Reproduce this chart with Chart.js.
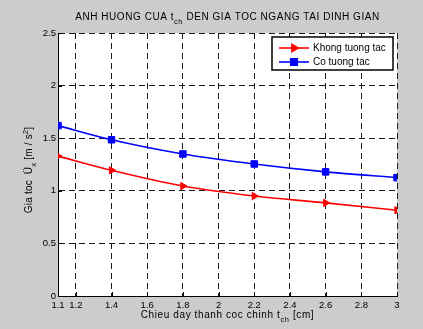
<!DOCTYPE html>
<html>
<head>
<meta charset="utf-8">
<title>Anh huong cua tch den gia toc ngang tai dinh gian</title>
<style>
  html, body { margin: 0; padding: 0; background: #cccccc; }
  #wrap { width: 423px; height: 329px; position: relative; }
  canvas { display: block; }
</style>
<script src="https://cdn.jsdelivr.net/npm/chart.js@4/dist/chart.umd.min.js"></script>
</head>
<body>
<div id="wrap"><canvas id="chart" width="423" height="329"></canvas></div>
<script>
// Chieu day thanh coc chinh t_ch [cm]
const thickness = [1.1, 1.4, 1.8, 2.2, 2.6, 3.0];
// Gia toc ngang tai dinh gian [m/s^2]
const accelNoInteraction = [1.33, 1.195, 1.045, 0.95, 0.885, 0.815];
const accelInteraction = [1.62, 1.485, 1.35, 1.255, 1.18, 1.125];
const seriesNames = ['Khong tuong tac', 'Co tuong tac'];
const seriesColors = ['#ff0000', '#0000ff'];
const xTickValues = [1.1, 1.2, 1.4, 1.6, 1.8, 2, 2.2, 2.4, 2.6, 2.8, 3];
const yTickValues = [0, 0.5, 1, 1.5, 2, 2.5];

const FONT = '"Liberation Sans", Arial, Helvetica, sans-serif';

// Text with subscripts / superscripts, drawn as a run of segments
function setFont(ctx, size, spacing) {
  ctx.font = size + 'px ' + FONT;
  if ('letterSpacing' in ctx) ctx.letterSpacing = spacing + 'px';
}
function richWidth(ctx, segs, size, spacing) {
  let w = 0;
  for (const s of segs) {
    const fs = (s.sub || s.sup) ? size * 0.75 : size;
    setFont(ctx, fs, spacing);
    w += ctx.measureText(s.t).width;
  }
  return w;
}
function drawRich(ctx, segs, x, y, size, spacing) {
  const w = richWidth(ctx, segs, size, spacing);
  let cx = x - w / 2;
  ctx.textBaseline = 'alphabetic';
  ctx.textAlign = 'left';
  for (const s of segs) {
    const fs = (s.sub || s.sup) ? size * 0.75 : size;
    setFont(ctx, fs, spacing);
    const dy = s.sub ? size * 0.35 : (s.sup ? -size * 0.45 : 0);
    ctx.fillText(s.t, cx, y + dy);
    cx += ctx.measureText(s.t).width;
  }
  setFont(ctx, size, 0);
}

const titleSegs = [{t: 'ANH HUONG CUA t'}, {t: 'ch', sub: true}, {t: ' DEN GIA TOC NGANG TAI DINH GIAN'}];
const xLabelSegs = [{t: 'Chieu day thanh coc chinh t'}, {t: 'ch', sub: true}, {t: ' [cm]'}];
const yLabelSegs = [{t: 'Gia toc  \u00DC'}, {t: 'x', sub: true}, {t: ' [m / s'}, {t: '2', sup: true}, {t: ']'}];

const figurePlugin = {
  id: 'figure',
  beforeDraw(chart) {
    const {ctx, chartArea: a} = chart;
    ctx.save();
    ctx.fillStyle = '#cccccc';
    ctx.fillRect(0, 0, chart.width, chart.height);
    ctx.fillStyle = '#ffffff';
    ctx.fillRect(a.left, a.top, a.right - a.left, a.bottom - a.top);
    ctx.restore();
  },
  afterDraw(chart) {
    const {ctx, chartArea: a, scales} = chart;
    ctx.save();
    // inward tick marks
    ctx.strokeStyle = '#000';
    ctx.lineWidth = 1;
    ctx.beginPath();
    for (const v of xTickValues) {
      const px = Math.round(scales.x.getPixelForValue(v)) + 0.5;
      ctx.moveTo(px, a.bottom);
      ctx.lineTo(px, a.bottom - 4);
    }
    for (const v of yTickValues) {
      const py = Math.round(scales.y.getPixelForValue(v)) + 0.5;
      ctx.moveTo(a.left, py);
      ctx.lineTo(a.left + 4, py);
    }
    ctx.stroke();

    // title and axis labels
    ctx.fillStyle = '#000';
    const cx = (a.left + a.right) / 2;
    drawRich(ctx, titleSegs, cx, 20, 10, 0.55);
    drawRich(ctx, xLabelSegs, cx, 318, 10, 0.6);
    ctx.save();
    ctx.translate(32, 170);
    ctx.rotate(-Math.PI / 2);
    drawRich(ctx, yLabelSegs, 0, 0, 10, 0.2);
    ctx.restore();

    // legend box
    const lx = 272, ly = 37, lw = 121, lh = 33;
    ctx.fillStyle = '#ffffff';
    ctx.fillRect(lx, ly, lw, lh);
    ctx.strokeStyle = '#000';
    ctx.lineWidth = 1.5;
    ctx.strokeRect(lx, ly, lw, lh);
    chart.data.datasets.forEach((ds, i) => {
      const ry = ly + 11 + i * 14;
      ctx.strokeStyle = ds.borderColor;
      ctx.lineWidth = ds.borderWidth;
      ctx.beginPath();
      ctx.moveTo(lx + 7, ry);
      ctx.lineTo(lx + 37, ry);
      ctx.stroke();
      ctx.fillStyle = ds.backgroundColor;
      Chart.helpers.drawPoint(ctx, {
        pointStyle: ds.pointStyle,
        rotation: ds.pointRotation || 0,
        radius: ds.pointRadius,
        borderWidth: 1
      }, lx + 22, ry);
      ctx.fillStyle = '#000';
      setFont(ctx, 10, 0);
      ctx.textAlign = 'left';
      ctx.textBaseline = 'middle';
      ctx.fillText(ds.label, lx + 41, ry + 0.5);
    });
    ctx.restore();
  }
};

new Chart(document.getElementById('chart'), {
  type: 'line',
  data: {
    datasets: [
      {
        label: seriesNames[0],
        data: thickness.map((x, i) => ({x, y: accelNoInteraction[i]})),
        borderColor: seriesColors[0],
        backgroundColor: seriesColors[0],
        borderWidth: 1.6,
        pointStyle: 'triangle',
        pointRotation: 90,
        pointRadius: 4.2,
        pointBorderWidth: 1,
        cubicInterpolationMode: 'monotone',
        tension: 0.3
      },
      {
        label: seriesNames[1],
        data: thickness.map((x, i) => ({x, y: accelInteraction[i]})),
        borderColor: seriesColors[1],
        backgroundColor: seriesColors[1],
        borderWidth: 1.6,
        pointStyle: 'rect',
        pointRadius: 4.6,
        pointBorderWidth: 1,
        cubicInterpolationMode: 'monotone',
        tension: 0.3
      }
    ]
  },
  options: {
    responsive: false,
    animation: false,
    devicePixelRatio: 1,
    layout: { padding: { top: 33, right: 26, left: 0, bottom: 0 } },
    plugins: { legend: { display: false }, tooltip: { enabled: false }, title: { display: false } },
    scales: {
      x: {
        type: 'linear',
        min: 1.1,
        max: 3,
        afterBuildTicks(scale) { scale.ticks = xTickValues.map(v => ({value: v})); },
        afterFit(scale) { scale.height = 33; },
        ticks: {
          autoSkip: false,
          maxRotation: 0,
          padding: 4,
          color: '#000',
          font: { family: FONT, size: 9.5 },
          callback: v => String(v)
        },
        grid: { color: '#1a1a1a', lineWidth: 1, drawTicks: false },
        border: { display: true, color: '#000', width: 1, dash: [6, 4] }
      },
      y: {
        min: 0,
        max: 2.5,
        afterBuildTicks(scale) { scale.ticks = yTickValues.map(v => ({value: v})); },
        afterFit(scale) { scale.width = 58; },
        ticks: {
          padding: 2,
          color: '#000',
          font: { family: FONT, size: 9.5 },
          callback: v => String(v)
        },
        grid: { color: '#1a1a1a', lineWidth: 1, drawTicks: false },
        border: { display: true, color: '#000', width: 1, dash: [6, 4] }
      }
    }
  },
  plugins: [figurePlugin]
});
</script>
</body>
</html>
